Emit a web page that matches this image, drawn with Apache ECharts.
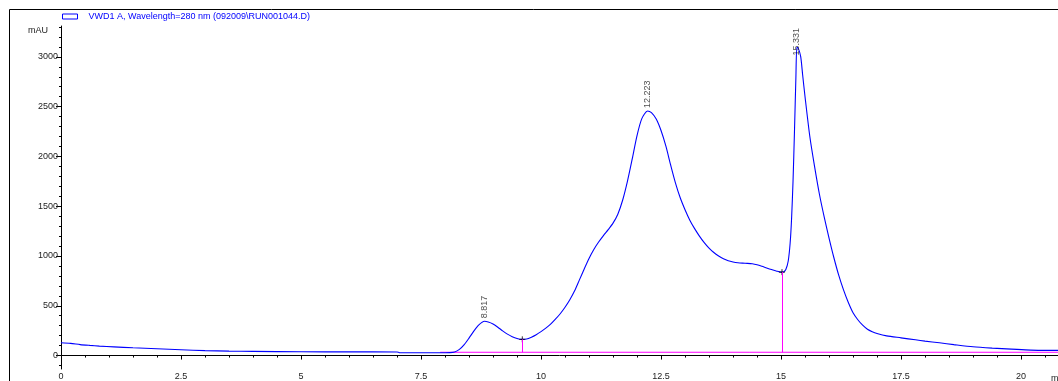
<!DOCTYPE html>
<html>
<head>
<meta charset="utf-8">
<script src="https://cdn.jsdelivr.net/npm/echarts@6/dist/echarts.min.js"></script>
<style>
html,body{margin:0;padding:0;background:#fff;}
#chart{width:1058px;height:381px;}
</style>
</head>
<body>
<div id="chart"></div>
<script>
// ---- data ----
const traceName = 'VWD1 A, Wavelength=280 nm (092009\\RUN001044.D)';
const times = [0,0.2,0.4,0.6,0.8,1.1,1.5,2.0,2.5,3.0,3.5,4.0,5.0,6.0,7.0,7.05,8.0,8.1,8.2,8.3,8.4,8.5,8.6,8.7,8.82,8.9,9.0,9.1,9.2,9.3,9.4,9.5,9.6,9.7,9.8,9.9,10.0,10.1,10.2,10.3,10.4,10.5,10.6,10.7,10.8,10.9,11.0,11.1,11.2,11.3,11.4,11.5,11.6,11.7,11.8,11.9,12.0,12.1,12.22,12.3,12.4,12.5,12.6,12.7,12.8,12.9,13.0,13.1,13.2,13.3,13.4,13.5,13.6,13.7,13.8,13.9,14.0,14.1,14.2,14.3,14.4,14.5,14.6,14.7,14.8,14.9,15.0,15.05,15.1,15.15,15.19,15.22,15.25,15.28,15.31,15.33,15.36,15.41,15.45,15.5,15.6,15.7,15.8,15.9,16.0,16.1,16.2,16.3,16.4,16.5,16.6,16.7,16.8,16.9,17.0,17.2,17.5,17.8,18.0,18.3,18.6,19.0,19.4,19.8,20.2,20.5,20.77];
const signal = [128,122,110,102,95,87,78,68,58,50,45,42,38,37,36,29,28,29,36,62,110,175,245,305,344,338,318,285,248,215,190,172,163,166,185,210,240,275,315,365,420,485,560,650,760,870,975,1065,1140,1205,1265,1330,1420,1560,1750,1975,2210,2380,2457,2440,2375,2260,2105,1915,1735,1585,1465,1360,1275,1200,1135,1080,1035,1000,972,952,940,932,928,926,922,912,897,880,864,850,838,840,865,950,1130,1380,1750,2250,2800,3095,3085,3002,2820,2600,2200,1895,1620,1390,1180,985,810,662,535,430,360,305,265,240,222,198,178,158,145,128,110,88,75,65,55,52,52];
const peakTimes = [8.817, 12.223, 15.331];
const peakHeights = [344, 2457, 3095];
const baselineStart = 7.9;
const baselineLevel = 33;
const dropTimes = [9.61, 15.02];
const dropHeights = [163, 838];
const xTickLabels = [0,2.5,5,7.5,10,12.5,15,17.5,20];
const xMinorTicks = [0,0.5,1,1.5,2,2.5,3,3.5,4,4.5,5,5.5,6,6.5,7,7.5,8,8.5,9,9.5,10,10.5,11,11.5,12,12.5,13,13.5,14,14.5,15,15.5,16,16.5,17,17.5,18,18.5,19,19.5,20,20.5];
const yTickLabels = [0,500,1000,1500,2000,2500,3000];
const yMinorTicks = [-100,0,100,200,300,400,500,600,700,800,900,1000,1100,1200,1300,1400,1500,1600,1700,1800,1900,2000,2100,2200,2300,2400,2500,2600,2700,2800,2900,3000,3100,3200,3300];
const X_MIN = 0, X_MAX = 20.77, Y_MIN = -135, Y_MAX = 3310;

// ---- build ----
const traceData = times.map((t, i) => [t, signal[i]]);
const font = '"Liberation Sans", Arial, sans-serif';
const txt = '#222';
const chart = echarts.init(document.getElementById('chart'), null, {renderer: 'canvas'});

const crossSymbol = 'path://M0,5 L10,5 M5,0 L5,10';
const tickSymbol = 'path://M5,0 L5,10';

chart.setOption({
  animation: false,
  backgroundColor: '#fff',
  textStyle: {fontFamily: font},
  grid: {left: 61, right: 0, top: 26, bottom: 11, containLabel: false},
  legend: {
    data: [traceName], left: 62, top: 12, itemWidth: 15, itemHeight: 5,
    icon: 'rect', padding: 0,
    itemStyle: {color: '#fff', borderColor: '#0000ff', borderWidth: 1},
    textStyle: {color: '#0000ff', fontSize: 9, fontFamily: font, padding: [0, 0, 0, 6]}
  },
  xAxis: [{
    type: 'value', min: X_MIN, max: X_MAX, position: 'bottom',
    axisLine: {show: true, lineStyle: {color: '#000', width: 1}},
    axisTick: {show: true, length: 4, lineStyle: {color: '#000'}, customValues: xTickLabels},
    axisLabel: {show: true, fontSize: 9, color: txt, margin: 3, fontFamily: font, customValues: xTickLabels, formatter: v => String(v)},
    splitLine: {show: false}
  }, {
    type: 'value', min: X_MIN, max: X_MAX, position: 'bottom',
    axisLine: {show: false},
    axisTick: {show: true, length: 2, lineStyle: {color: '#000'}, customValues: xMinorTicks},
    axisLabel: {show: false},
    splitLine: {show: false}
  }],
  yAxis: [{
    type: 'value', min: Y_MIN, max: Y_MAX, position: 'left',
    axisLine: {show: true, lineStyle: {color: '#000', width: 1}},
    axisTick: {show: true, length: 5, lineStyle: {color: '#000'}, customValues: yTickLabels},
    axisLabel: {show: true, fontSize: 9, color: txt, margin: 3, fontFamily: font, customValues: yTickLabels, formatter: v => String(v)},
    splitLine: {show: false}
  }, {
    type: 'value', min: Y_MIN, max: Y_MAX, position: 'left',
    axisLine: {show: false},
    axisTick: {show: true, length: 2, lineStyle: {color: '#000'}, customValues: yMinorTicks},
    axisLabel: {show: false},
    splitLine: {show: false}
  }],
  series: [
    {
      name: 'baseline', type: 'line', xAxisIndex: 0, yAxisIndex: 0, silent: true,
      data: [[baselineStart, baselineLevel], [X_MAX, baselineLevel]],
      showSymbol: false, symbol: 'none',
      lineStyle: {color: '#ff00ff', width: 1},
      markLine: {
        silent: true, symbol: 'none', label: {show: false},
        lineStyle: {color: '#ff00ff', width: 1, type: 'solid'},
        data: dropTimes.map((t, i) => [{coord: [t, baselineLevel]}, {coord: [t, dropHeights[i]]}])
      },
      z: 2
    },
    {
      name: traceName, type: 'line', xAxisIndex: 0, yAxisIndex: 0,
      data: traceData, showSymbol: false, symbol: 'none', smooth: 0.25,
      lineStyle: {color: '#0000ff', width: 1.1},
      itemStyle: {color: '#0000ff'},
      z: 3
    },
    {
      name: 'marks', type: 'scatter', xAxisIndex: 0, yAxisIndex: 0, silent: true,
      data: dropTimes.map((t, i) => ({value: [t, dropHeights[i]], symbol: crossSymbol, symbolSize: [6, 6]}))
        .concat([{value: [baselineStart, baselineLevel], symbol: tickSymbol, symbolSize: [2, 6], symbolOffset: [0, -3]}]),
      itemStyle: {color: 'none', borderColor: '#000', borderWidth: 1},
      z: 4
    },
    {
      name: 'peaks', type: 'scatter', xAxisIndex: 0, yAxisIndex: 0, silent: true,
      symbolSize: 0,
      data: peakTimes.map((t, i) => ({
        value: [t, peakHeights[i]],
        label: i === 2 ? {offset: [-11, 0]} : {}
      })),
      label: {
        show: true, position: 'top', distance: 3, rotate: 90, align: 'left', verticalAlign: 'middle',
        fontSize: 9, color: txt, fontFamily: font,
        formatter: p => p.value[0].toFixed(3)
      },
      z: 5
    }
  ],
  graphic: [
    {type: 'line', shape: {x1: 9.5, y1: 9.5, x2: 1058, y2: 9.5}, style: {stroke: '#000', lineWidth: 1}, silent: true},
    {type: 'line', shape: {x1: 9.5, y1: 9.5, x2: 9.5, y2: 381}, style: {stroke: '#000', lineWidth: 1}, silent: true},
    {type: 'text', left: 28, top: 26, style: {text: 'mAU', fontSize: 9, fill: txt, fontFamily: font}, silent: true},
    {type: 'text', left: 1051, top: 374, style: {text: 'min', fontSize: 9, fill: txt, fontFamily: font}, silent: true}
  ]
});
</script>
</body>
</html>
